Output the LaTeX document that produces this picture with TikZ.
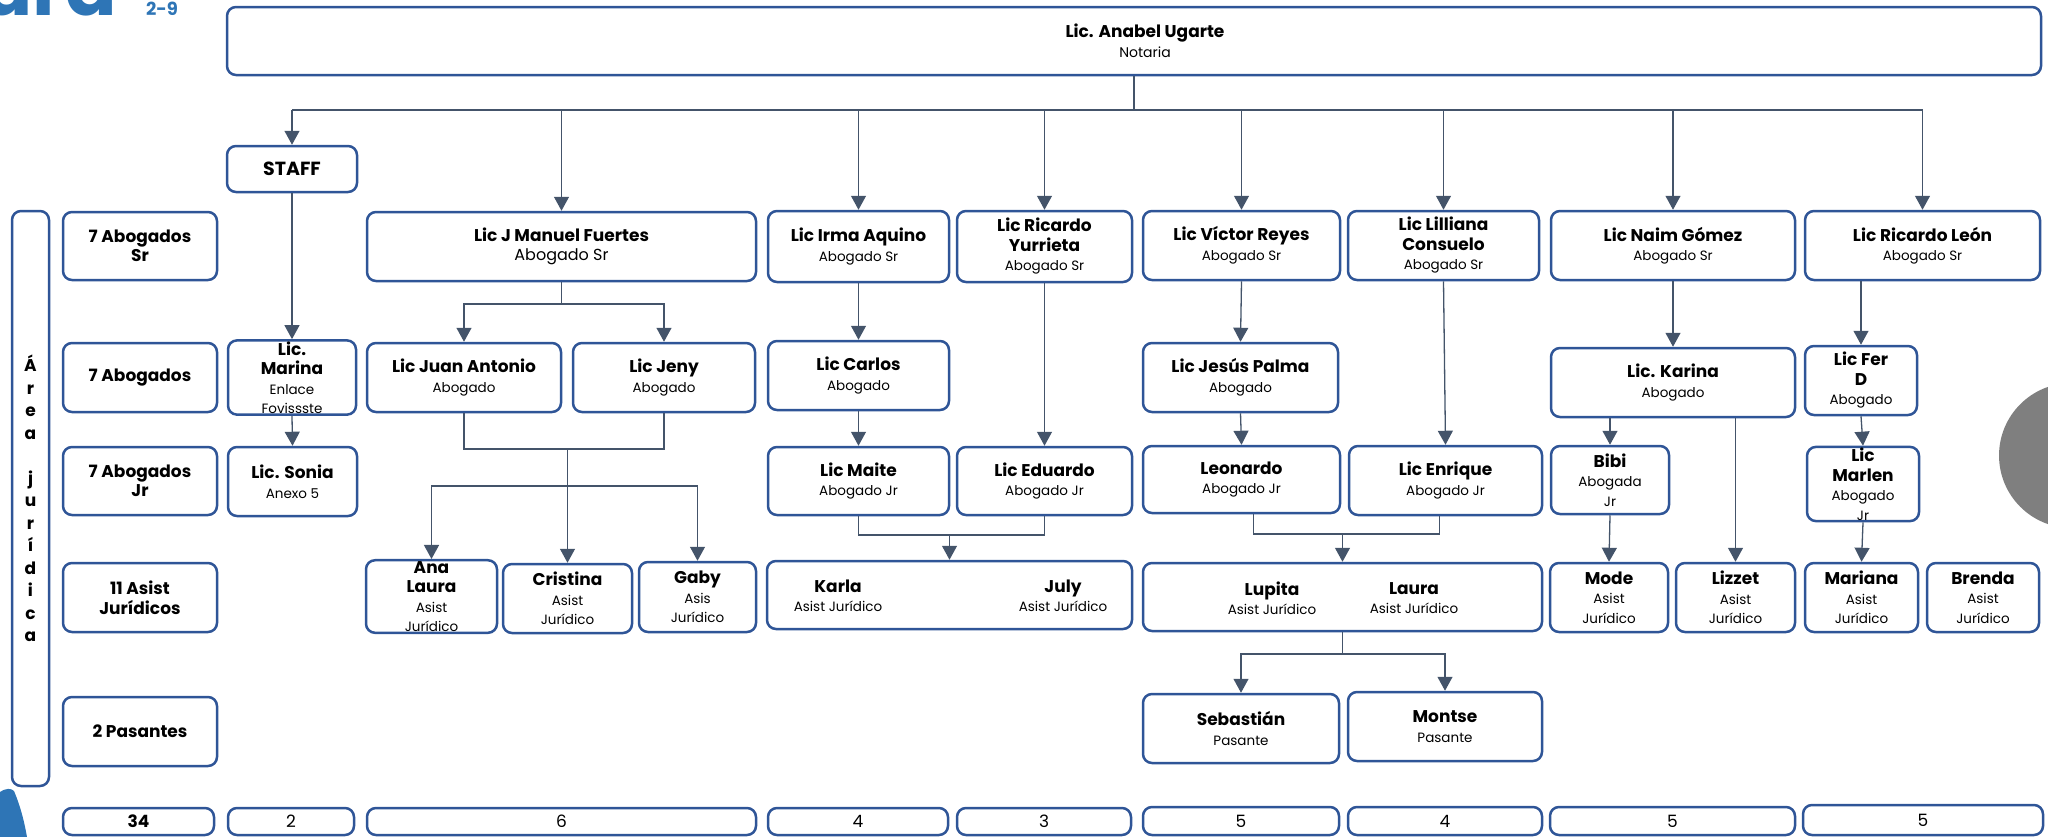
\documentclass[tikz,border=0pt]{standalone}
\usepackage{fontspec}
\setmainfont{Poppins}
\usetikzlibrary{arrows.meta}
\definecolor{azulborde}{RGB}{47,85,151}
\definecolor{gristinta}{RGB}{68,84,106}
\definecolor{azultitulo}{RGB}{46,117,182}
\definecolor{griscirculo}{RGB}{127,127,127}
\newcommand{\nom}{\fontsize{17}{19.5}\selectfont\bfseries}
\newcommand{\rol}{\fontsize{13.5}{16}\selectfont\mdseries}
\newcommand{\rolg}{\fontsize{16}{18}\selectfont\mdseries}
\tikzset{
  caja/.style={draw=azulborde, line width=2.5pt, rounded corners=9pt, fill=white, align=center, inner sep=1pt, font=\nom},
  texto/.style={align=center, inner sep=0pt, font=\nom},
  linea/.style={draw=gristinta, line width=1.3pt},
  flecha/.style={linea, -{Triangle[width=15pt,length=14pt]}}
}
\newcommand{\caja}[7][]{\node[caja, #1, minimum width={(#5-#3)*1pt}, minimum height={(#6-#4)*1pt}] (#2) at ({(#3+#5)/2},{(#4+#6)/2}) {#7};}
\begin{document}
\begin{tikzpicture}[x=1pt,y=-1pt]
  \useasboundingbox (0,0) rectangle (2048,836);
  \clip (0,0) rectangle (2048,836);
  \node[anchor=base east, text=azultitulo, inner sep=0pt, font=\fontsize{76}{76}\selectfont\bfseries] (titulo) at (117,15) {ura};
  \node[anchor=base west, text=azultitulo, inner sep=0pt, font=\fontsize{18}{18}\selectfont\bfseries] (pagina) at (146,15) {2-9};
  \fill[azultitulo] (0,792) .. controls (6,788) and (11,788) .. (14,791) .. controls (20,805) and (24,820) .. (27,837) -- (0,837) -- cycle;
  \fill[griscirculo] (2071.5,455.5) circle (72.5);

  \caja{anabel}{227}{7}{2041}{75}{}
  \node[texto] (anabeltxt) at (1145,41) {Lic. Anabel Ugarte\\\fontsize{14}{17}\selectfont\mdseries Notaria};
  \caja[font=\fontsize{19}{21}\selectfont\bfseries]{staff}{227}{146}{357}{192}{STAFF}
  \caja[font=\fontsize{17}{22.5}\selectfont\bfseries]{area}{12}{211}{49}{786}{Á\\r\\e\\a\\[22.5pt]j\\u\\r\\í\\d\\i\\c\\a}

  \caja{labsr}{63}{212}{217}{280}{7 Abogados\\Sr}
  \caja{fuertes}{367}{212}{756}{281}{Lic J Manuel Fuertes\\\rolg Abogado Sr}
  \caja{irma}{768}{211}{949}{282}{Lic Irma Aquino\\\rol Abogado Sr}
  \caja{yurrieta}{957}{211}{1132}{282}{Lic Ricardo\\Yurrieta\\\rol Abogado Sr}
  \caja{victor}{1143}{211}{1340}{280}{Lic Víctor Reyes\\\rol Abogado Sr}
  \caja{lilliana}{1348}{211}{1539}{280}{Lic Lilliana\\Consuelo\\\rol Abogado Sr}
  \caja{naim}{1551}{211}{1795}{280}{Lic Naim Gómez\\\rol Abogado Sr}
  \caja{leon}{1805}{211}{2040}{280}{Lic Ricardo León\\\rol Abogado Sr}

  \caja{labab}{63}{343}{217}{412}{7 Abogados}
  \caja{marina}{228}{343}{356}{412}{Lic.\\Marina\\\rol Enlace\\\rol Fovissste}
  \caja{juanantonio}{367}{343}{561}{412}{Lic Juan Antonio\\\rol Abogado}
  \caja{jeny}{573}{343}{755}{412}{Lic Jeny\\\rol Abogado}
  \caja{carlos}{768}{341}{949}{410}{Lic Carlos\\\rol Abogado}
  \caja{jesus}{1143}{343}{1338}{412}{Lic Jesús Palma\\\rol Abogado}
  \caja{karina}{1551}{348}{1795}{417}{Lic. Karina\\\rol Abogado}
  \caja{ferd}{1805}{346}{1917}{415}{Lic Fer\\D\\\rol Abogado}

  \caja{labjr}{63}{447}{217}{515}{7 Abogados\\Jr}
  \caja{sonia}{228}{447}{357}{516}{Lic. Sonia\\\rol Anexo 5}
  \caja{maite}{768}{447}{949}{515}{Lic Maite\\\rol Abogado Jr}
  \caja{eduardo}{957}{447}{1132}{515}{Lic Eduardo\\\rol Abogado Jr}
  \caja{leonardo}{1143}{446}{1340}{513}{Leonardo\\\rol Abogado Jr}
  \caja{enrique}{1349}{446}{1542}{515}{Lic Enrique\\\rol Abogado Jr}
  \caja{bibi}{1551}{446}{1669}{514}{Bibi\\\rol Abogada\\\rol Jr}
  \caja{marlen}{1807}{450}{1919}{518}{Lic\\Marlen\\\rol Abogado\\\rol Jr}

  \caja{labasist}{63}{563}{217}{632}{11 Asist\\Jurídicos}
  \caja{analaura}{366}{562}{497}{631}{Ana\\Laura\\\rol Asist\\\rol Jurídico}
  \caja{cristina}{503}{564}{632}{633}{Cristina\\\rol Asist\\\rol Jurídico}
  \caja{gaby}{639}{562}{756}{632}{Gaby\\\rol Asis\\\rol Jurídico}
  \caja{asist1}{767}{561}{1132}{629}{}
  \caja{asist2}{1143}{563}{1542}{631}{}
  \caja{mode}{1550}{563}{1668}{632}{Mode\\\rol Asist\\\rol Jurídico}
  \caja{lizzet}{1676}{563}{1795}{632}{Lizzet\\\rol Asist\\\rol Jurídico}
  \caja{mariana}{1805}{563}{1918}{632}{Mariana\\\rol Asist\\\rol Jurídico}
  \caja{brenda}{1927}{563}{2039}{632}{Brenda\\\rol Asist\\\rol Jurídico}
  \node[texto] (karla) at (838,596) {Karla\\\rol Asist Jurídico};
  \node[texto] (july) at (1063,596) {July\\\rol Asist Jurídico};
  \node[texto] (lupita) at (1272,598) {Lupita\\\rol Asist Jurídico};
  \node[texto] (laura) at (1414,598) {Laura\\\rol Asist Jurídico};

  \caja{labpas}{63}{697}{217}{766}{2 Pasantes}
  \caja{sebastian}{1143}{694}{1339}{763}{Sebastián\\\rol Pasante}
  \caja{montse}{1348}{692}{1542}{761}{Montse\\\rol Pasante}

  \caja{totgeneral}{63}{808}{214}{835}{34}
  \caja[font=\fontsize{17}{19}\selectfont]{totstaff}{228}{808}{354}{835}{2}
  \caja[font=\fontsize{17}{19}\selectfont]{totfuertes}{367}{808}{756}{835}{6}
  \caja[font=\fontsize{17}{19}\selectfont]{totirma}{768}{808}{948}{835}{4}
  \caja[font=\fontsize{17}{19}\selectfont]{totyurrieta}{957}{808}{1131}{835}{3}
  \caja[font=\fontsize{17}{19}\selectfont]{totvictor}{1143}{807}{1339}{835}{5}
  \caja[font=\fontsize{17}{19}\selectfont]{totlilliana}{1348}{807}{1542}{835}{4}
  \caja[font=\fontsize{17}{19}\selectfont]{totnaim}{1550}{807}{1795}{835}{5}
  \caja[font=\fontsize{17}{19}\selectfont]{totleon}{1803}{805}{2043}{835}{5}

  \coordinate (bus) at (0,110);
  \coordinate (r1) at (0,304);
  \coordinate (r2) at (0,449);
  \coordinate (r3) at (0,486);
  \coordinate (r4) at (0,535);
  \coordinate (r5) at (0,534);
  \coordinate (r6) at (0,654);
  \draw[linea] (anabel.south) -- (anabel.south |- bus);
  \draw[linea] (staff |- bus) -- (leon |- bus);
  \foreach \n in {staff,fuertes,irma,yurrieta,victor,lilliana,naim,leon}
    \draw[flecha] (\n |- bus) -- (\n.north);
  \draw[flecha] (staff.south) -- (marina.north);
  \draw[flecha] (marina.south) -- (sonia.north);
  \draw[flecha] (fuertes.south) |- (juanantonio |- r1) -- (juanantonio.north);
  \draw[flecha] (fuertes.south) |- (jeny |- r1) -- (jeny.north);
  \draw[linea] (juanantonio.south) |- (cristina |- r2);
  \draw[linea] (jeny.south) |- (cristina |- r2);
  \draw[flecha] (cristina |- r2) -- (cristina.north);
  \draw[flecha] (cristina |- r3) -| (analaura.north);
  \draw[flecha] (cristina |- r3) -| (gaby.north);
  \draw[flecha] (irma.south) -- (carlos.north);
  \draw[flecha] (carlos.south) -- (maite.north);
  \draw[flecha] (yurrieta.south) -- (eduardo.north);
  \draw[linea] (maite.south) |- (asist1 |- r4);
  \draw[linea] (eduardo.south) |- (asist1 |- r4);
  \draw[flecha] (asist1 |- r4) -- (asist1.north);
  \draw[flecha] (victor.south) -- (jesus.north);
  \draw[flecha] (jesus.south) -- (leonardo.north);
  \draw[flecha] (lilliana.south) -- (enrique.north);
  \draw[linea] ([xshift=12pt]leonardo.south) |- (asist2 |- r5);
  \draw[linea] ([xshift=-6pt]enrique.south) |- (asist2 |- r5);
  \draw[flecha] (asist2 |- r5) -- (asist2.north);
  \draw[flecha] (asist2.south) |- (sebastian |- r6) -- (sebastian.north);
  \draw[flecha] (asist2.south) |- (montse |- r6) -- (montse.north);
  \draw[flecha] (naim.south) -- (karina.north);
  \draw[flecha] (karina.south -| bibi) -- (bibi.north);
  \draw[flecha] (karina.south -| lizzet) -- (lizzet.north);
  \draw[flecha] (bibi.south) -- (mode.north);
  \draw[flecha] (leon.south -| ferd) -- (ferd.north);
  \draw[flecha] (ferd.south) -- (marlen.north);
  \draw[flecha] (marlen.south) -- (mariana.north);
\end{tikzpicture}
\end{document}
